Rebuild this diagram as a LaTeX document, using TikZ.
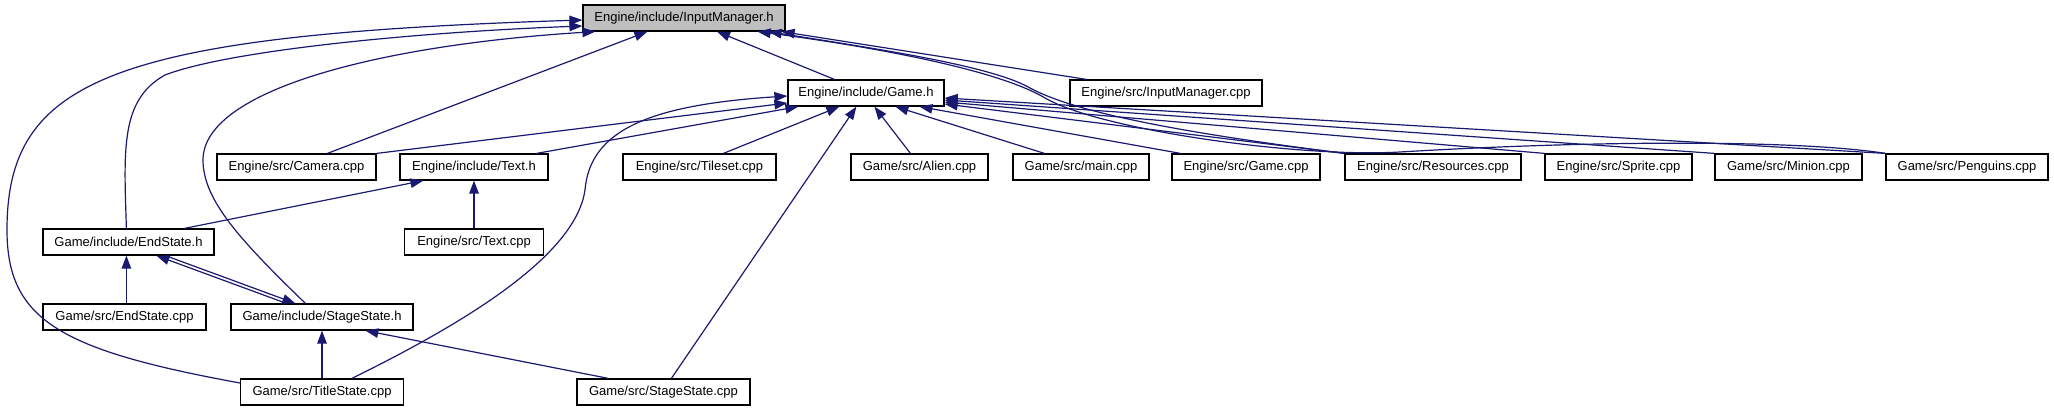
\documentclass[tikz,border=0pt]{standalone}
\usepackage{fontspec}
\setmainfont{Liberation Sans}
\usetikzlibrary{arrows.meta}
\definecolor{edgecol}{RGB}{25,25,112}
\definecolor{rootfill}{RGB}{191,191,191}
\begin{document}
\begin{tikzpicture}[x=1pt,y=-1pt,
  box/.style={draw=black, line width=1.2pt, fill=white, minimum height=26pt, inner sep=0pt,
              font=\fontsize{13}{15}\selectfont, anchor=center},
  root/.style={box, fill=rootfill},
  edge/.style={draw=edgecol, line width=1.2pt, -{Triangle[length=13pt,width=9.5pt]}},
]
\useasboundingbox (0,0) rectangle (2054,411);
% row 1
\node[root, minimum width=202pt] (im) at (684,18) {Engine/include/InputManager.h};
% row 2
\node[box, minimum width=156pt] (gh) at (866,93) {Engine/include/Game.h};
\node[box, minimum width=192pt] (imc) at (1166,93) {Engine/src/InputManager.cpp};
% row 3
\node[box, minimum width=159pt] (cam) at (296.5,167) {Engine/src/Camera.cpp};
\node[box, minimum width=148pt] (txh) at (474,167) {Engine/include/Text.h};
\node[box, minimum width=153pt] (ts) at (699.5,167) {Engine/src/Tileset.cpp};
\node[box, minimum width=137pt] (al) at (919.5,167) {Game/src/Alien.cpp};
\node[box, minimum width=136pt] (mn) at (1081,167) {Game/src/main.cpp};
\node[box, minimum width=148pt] (gc) at (1246,167) {Engine/src/Game.cpp};
\node[box, minimum width=176pt] (res) at (1433,167) {Engine/src/Resources.cpp};
\node[box, minimum width=147pt] (spr) at (1618.5,167) {Engine/src/Sprite.cpp};
\node[box, minimum width=147pt] (mi) at (1788.5,167) {Game/src/Minion.cpp};
\node[box, minimum width=162pt] (pen) at (1967,167) {Game/src/Penguins.cpp};
% row 4
\node[box, minimum width=171pt] (esh) at (128.5,242) {Game/include/EndState.h};
\node[box, minimum width=139pt] (tc) at (474,242) {Engine/src/Text.cpp};
% row 5
\node[box, minimum width=163pt] (esc) at (124.5,317) {Game/src/EndState.cpp};
\node[box, minimum width=182pt] (ssh) at (322,317) {Game/include/StageState.h};
% row 6
\node[box, minimum width=163pt] (tsc) at (322,392) {Game/src/TitleState.cpp};
\node[box, minimum width=173pt] (ssc) at (663.5,392) {Game/src/StageState.cpp};

% edges into InputManager.h
\draw[edge] ([yshift=9pt]tsc.west) .. controls (60,350) and (7,320) .. (7,230)
            .. controls (7,80) and (110,35) .. ([yshift=-2pt]im.west);
\draw[edge] ([xshift=84pt]esh.north west) .. controls (124,150) and (120,100) .. (165,75)
            .. controls (230,50) and (420,32) .. ([yshift=-8pt]im.west);
\draw[edge] ([xshift=75pt]ssh.north west) .. controls (240,240) and (203,200) .. (203,160)
            .. controls (203,90) and (380,45) .. ([xshift=13pt]im.south west);
\draw[edge] ([xshift=111pt]cam.north west) -- ([xshift=65pt]im.south west);
\draw[edge] ([xshift=47pt]gh.north west) -- ([xshift=33pt]im.south);
\draw[edge] ([xshift=17pt]imc.north west) -- ([xshift=-4pt]im.south east);
\draw[edge] (res.north west) .. controls (1200,135) and (1080,115) .. (1030,88)
            .. controls (990,65) and (870,48) .. ([xshift=-17pt]im.south east);
\draw[edge] (pen.north west) .. controls (1800,140) and (1600,140) .. (1400,152)
            .. controls (1300,158) and (1100,130) .. (1045,98)
            .. controls (995,68) and (860,45) .. ([xshift=-28pt]im.south east);

% edges into Game.h
\draw[edge] ([xshift=112pt]tsc.north west) .. controls (450,330) and (575,260) .. (585,190)
            .. controls (590,130) and (650,105) .. ([yshift=-3pt]gh.west);
\draw[edge] (cam.north east) -- ([yshift=-10pt]gh.west);
\draw[edge] ([xshift=-12pt]txh.north east) -- ([xshift=11pt]gh.south west);
\draw[edge] ([xshift=101pt]ts.north west) -- ([xshift=52pt]gh.south west);
\draw[edge] ([xshift=95pt]ssc.north west) -- ([xshift=69pt]gh.south west);
\draw[edge] ([xshift=60pt]al.north west) -- ([xshift=87pt]gh.south west);
\draw[edge] ([xshift=32pt]mn.north west) -- ([xshift=108pt]gh.south west);
\draw[edge] ([xshift=9pt]gc.north west) -- ([xshift=132pt]gh.south west);
\draw[edge] (res.north west) -- ([yshift=-11pt]gh.east);
\draw[edge] (spr.north west) -- ([yshift=-9pt]gh.east);
\draw[edge] (mi.north west) -- ([yshift=-7pt]gh.east);
\draw[edge] (pen.north west) -- ([yshift=-5pt]gh.east);

% edges into Text.h
\draw[edge] ([xshift=142pt]esh.north west) -- ([xshift=24pt]txh.south west);
\draw[edge] (tc.north) -- (txh.south);

% edges into EndState.h
\draw[edge] ([xshift=84pt]esc.north west) -- ([xshift=84pt]esh.south west);
\draw[edge] ([xshift=56pt]ssh.north west) -- ([xshift=114pt]esh.south west);

% edges into StageState.h
\draw[edge] ([xshift=123pt]esh.south west) -- ([xshift=65pt]ssh.north west);
\draw[edge] (tsc.north) -- (ssh.south);
\draw[edge] ([xshift=32pt]ssc.north west) -- ([xshift=135pt]ssh.south west);
\end{tikzpicture}
\end{document}
